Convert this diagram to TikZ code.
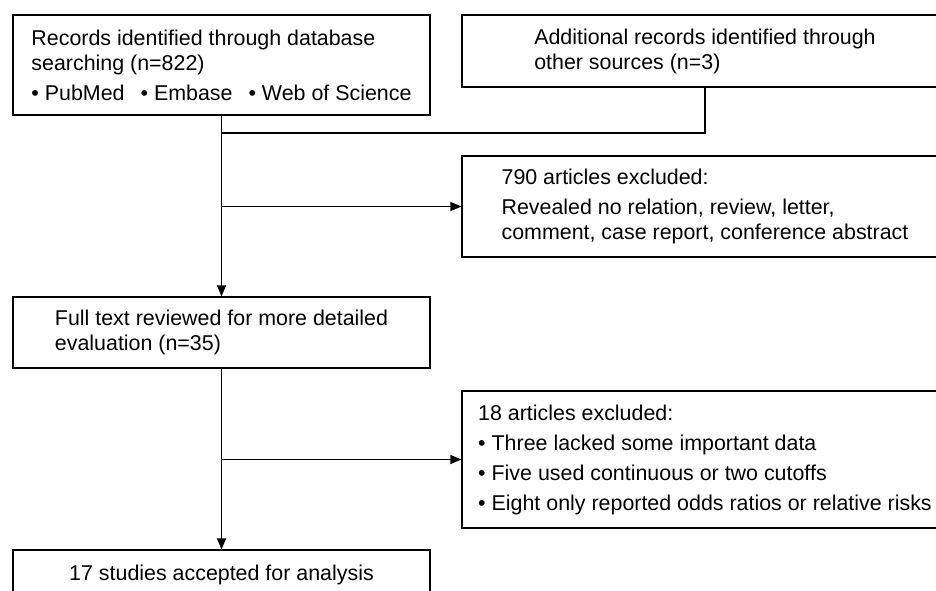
\documentclass[tikz,border=0pt]{standalone}
\usepackage{fontspec}
\setmainfont{Liberation Sans}
\usetikzlibrary{arrows.meta, positioning, calc}

\begin{document}
\begin{tikzpicture}[
    x=1pt, y=-1pt,
    box/.style={draw, line width=1.2pt, align=left, inner sep=0pt,
                font=\fontsize{21.4}{25}\selectfont},
    arrow/.style={-{Triangle[length=11pt, width=9pt]}, line width=1.2pt},
  ]
    \clip (0,0) rectangle (936,590);

    % Identification
    \node[box, minimum width=417pt, minimum height=100pt]
      (records) at (221.5,65) {Records identified through database\\
      searching (n=822)\\[5pt]
      \textbullet\ PubMed\hspace{16pt}\textbullet\ Embase\hspace{16pt}\textbullet\ Web of Science};

    \node[box, minimum width=486pt, minimum height=72pt]
      (other) at (705,51) {Additional records identified through\\
      other sources (n=3)};

    % First exclusion
    \node[box, minimum width=486pt, minimum height=101pt]
      (excl1) at (705,206.5) {790 articles excluded:\\[5pt]
      Revealed no relation, review, letter,\\
      comment, case report, conference abstract};

    % Full text
    \node[box, minimum width=417pt, minimum height=71pt]
      (full) at (221.5,332.5) {Full text reviewed for more detailed\\
      evaluation (n=35)};

    % Second exclusion
    \node[box, minimum width=486pt, minimum height=137pt]
      (excl2) at (705,459.5) {18 articles excluded:\\[5pt]
      \textbullet\ Three lacked some important data\\[5pt]
      \textbullet\ Five used continuous or two cutoffs\\[5pt]
      \textbullet\ Eight only reported odds ratios or relative risks};

    % Included
    \node[box, minimum width=417pt, minimum height=50pt]
      (final) at (221.5,575) {17 studies accepted for analysis};

    % Arrows
    \coordinate (join) at (records.south |- 0,133);
    \draw[line width=1.2pt] (other.south) |- (join);
    \draw[arrow] (records.south) -- (full.north);
    \draw[arrow] (records.south |- excl1.west) -- (excl1.west);
    \draw[arrow] (full.south) -- (final.north);
    \draw[arrow] (full.south |- excl2.west) -- (excl2.west);
  \end{tikzpicture}
\end{document}
